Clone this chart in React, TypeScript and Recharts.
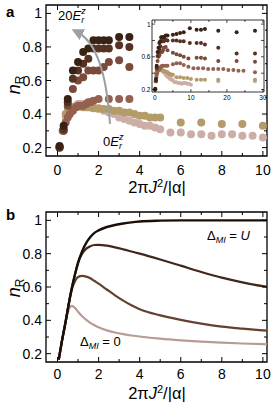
import { ScatterChart, Scatter, LineChart, Line, XAxis, YAxis, ReferenceArea } from "recharts";

const FONT = '"Liberation Sans", Arial, Helvetica, sans-serif';

// panel a: measured n_R, from 20E_r^z (darkest) down to 0E_r^z (lightest)
const e20X = [0.1, 0.3, 0.5, 0.75, 1, 1.25, 1.5, 1.75, 2, 2.25, 2.5, 3, 3.5, 5, 6, 7, 8, 9.7, 11.6, 12.8, 13.9, 17.6, 22.7, 27.8];
const e20Y = [0.21, 0.33, 0.49, 0.66, 0.71, 0.77, 0.79, 0.84, 0.84, 0.84, 0.84, 0.86, 0.86, 0.87, 0.88, 0.89, 0.9, 0.95, 0.93, 0.93, 0.94, 0.92, 0.9, 0.92];
const e15X = [0.1, 0.3, 0.5, 0.75, 1, 1.25, 1.5, 1.75, 2, 2.25, 2.5, 3, 3.5, 5, 6, 7, 8, 9.7, 11.6, 12.8, 13.9, 17.6, 22.7, 27.8];
const e15Y = [0.2, 0.31, 0.47, 0.61, 0.66, 0.7, 0.73, 0.79, 0.79, 0.79, 0.79, 0.81, 0.8, 0.8, 0.8, 0.79, 0.79, 0.77, 0.77, 0.77, 0.75, 0.71, 0.64, 0.64];
const e10X = [0.1, 0.3, 0.5, 0.75, 1, 1.25, 1.5, 1.75, 2, 2.25, 2.5, 3, 3.5, 5, 6, 7, 8, 9.3, 11.6, 12.8, 13.9, 17.6, 22.7, 27.8];
const e10Y = [0.2, 0.3, 0.45, 0.55, 0.6, 0.62, 0.66, 0.66, 0.66, 0.68, 0.71, 0.72, 0.68, 0.65, 0.63, 0.62, 0.6, 0.58, 0.59, 0.59, 0.58, 0.55, 0.55, 0.54];
const e5X = [0.1, 0.25, 0.4, 0.5, 0.6, 0.75, 0.9, 1, 1.1, 1.25, 1.4, 1.5, 1.6, 1.75, 2, 2.5, 3, 3.5, 5, 6, 7, 8, 9.3, 10.7, 12, 13.4, 14.8, 16.2, 17.6, 19, 20.4, 21.8, 23.2, 24.6, 27.8];
const e5Y = [0.2, 0.3, 0.35, 0.38, 0.4, 0.42, 0.44, 0.45, 0.45, 0.45, 0.46, 0.47, 0.47, 0.48, 0.49, 0.49, 0.49, 0.49, 0.51, 0.52, 0.52, 0.5, 0.48, 0.46, 0.46, 0.46, 0.45, 0.45, 0.45, 0.45, 0.44, 0.44, 0.43, 0.43, 0.41];
const e2X = [0.4, 0.5, 0.6, 0.75, 0.9, 1, 1.1, 1.25, 1.4, 1.5, 1.6, 1.75, 2, 2.25, 2.5, 2.75, 3, 3.25, 3.5, 3.75, 4, 4.25, 4.5, 4.75, 5, 6, 7, 8, 9, 10, 11.6, 12.8, 13.9, 17.6, 27.8];
const e2Y = [0.4, 0.42, 0.43, 0.44, 0.44, 0.445, 0.445, 0.44, 0.44, 0.44, 0.44, 0.435, 0.435, 0.43, 0.43, 0.42, 0.42, 0.41, 0.41, 0.4, 0.39, 0.39, 0.38, 0.38, 0.38, 0.35, 0.35, 0.34, 0.34, 0.33, 0.32, 0.32, 0.32, 0.32, 0.32];
const e0X = [0.3, 0.4, 0.5, 0.6, 0.75, 0.9, 1, 1.1, 1.25, 1.4, 1.5, 1.6, 1.75, 2, 2.25, 2.5, 2.75, 3, 3.25, 3.5, 3.75, 4, 4.25, 4.5, 4.75, 5, 5.5, 6, 6.5, 7, 7.5, 8, 8.5, 9, 9.5, 10, 17.6, 27.8];
const e0Y = [0.3, 0.38, 0.41, 0.43, 0.44, 0.45, 0.46, 0.46, 0.46, 0.45, 0.45, 0.44, 0.44, 0.43, 0.42, 0.41, 0.4, 0.38, 0.37, 0.36, 0.35, 0.34, 0.33, 0.33, 0.32, 0.31, 0.29, 0.29, 0.28, 0.28, 0.27, 0.28, 0.28, 0.27, 0.27, 0.26, 0.3, 0.3];

// panel b: model curves
const bX = [0.06, 0.2, 0.4, 0.55, 0.7, 0.85, 1.0, 1.2, 1.4, 1.6, 1.8, 2.0, 2.4, 2.8, 3.2, 3.6, 4, 5, 6, 7, 8, 9, 10, 10.4];
const bU = [0.165, 0.265, 0.395, 0.5, 0.595, 0.675, 0.745, 0.815, 0.865, 0.9, 0.925, 0.94, 0.96, 0.972, 0.981, 0.988, 0.993, 0.998, 1, 1, 1, 1, 1, 1];
const bHigh = [0.165, 0.265, 0.395, 0.5, 0.595, 0.675, 0.745, 0.8, 0.83, 0.845, 0.852, 0.853, 0.848, 0.838, 0.826, 0.813, 0.8, 0.765, 0.728, 0.69, 0.656, 0.628, 0.605, 0.598];
const bMid = [0.165, 0.265, 0.395, 0.5, 0.585, 0.635, 0.66, 0.667, 0.662, 0.652, 0.636, 0.62, 0.585, 0.55, 0.518, 0.49, 0.467, 0.43, 0.403, 0.38, 0.362, 0.35, 0.34, 0.336];
const bZero = [0.165, 0.265, 0.395, 0.465, 0.487, 0.475, 0.452, 0.425, 0.403, 0.385, 0.37, 0.358, 0.34, 0.327, 0.317, 0.309, 0.303, 0.29, 0.28, 0.272, 0.266, 0.261, 0.257, 0.256];

// ticks
const xTicks = [0, 1, 2, 3, 4, 5, 6, 7, 8, 9, 10];
const xLabels = [0, 2, 4, 6, 8, 10];
const yTicks = [0.2, 0.3, 0.4, 0.5, 0.6, 0.7, 0.8, 0.9, 1];
const yLabels = [0.2, 0.4, 0.6, 0.8, 1];
const insetXTicks = [0, 5, 10, 15, 20, 25, 30];
const insetXLabels = [0, 10, 20, 30];
const insetYTicks = [0.2, 0.4, 0.6, 0.8, 1];
const insetYLabels = [0.2, 0.6, 1];

const zip = (xs: number[], ys: number[]) => xs.map((x, i) => ({ x, y: ys[i] }));

const SERIES = [
  { key: "e0", pts: zip(e0X, e0Y), color: "#cdaea6" },
  { key: "e2", pts: zip(e2X, e2Y), color: "#b39c69" },
  { key: "e5", pts: zip(e5X, e5Y), color: "#95604f" },
  { key: "e10", pts: zip(e10X, e10Y), color: "#7a4a3a" },
  { key: "e15", pts: zip(e15X, e15Y), color: "#573222" },
  { key: "e20", pts: zip(e20X, e20Y), color: "#382213" },
];

const bData = bX.map((x, i) => ({ x, u: bU[i], hi: bHigh[i], mid: bMid[i], zero: bZero[i] }));

const X_DOM: [number, number] = [-0.56, 10.2];
const Y_DOM: [number, number] = [0.15, 1.05];

const isLabel = (list: number[], v: number) => list.some((l) => Math.abs(l - v) < 1e-6);
const fmtY = (v: number) => (v === 1 ? "1" : v.toFixed(1));

function BottomTick(props: any) {
  const { x = 0, y = 0, payload, tLabels, tSpan, tLen, tMinor, tSize, tGap, tW } = props;
  const v = payload.value;
  const major = isLabel(tLabels, v);
  const l = major ? tLen : tMinor;
  return (
    <g>
      <line x1={x} x2={x} y1={y} y2={y - l} stroke="#000" strokeWidth={tW} />
      <line x1={x} x2={x} y1={y - tSpan} y2={y - tSpan + l} stroke="#000" strokeWidth={tW} />
      {major && (
        <text x={x} y={y + tGap} textAnchor="middle" dominantBaseline="central" fontSize={tSize} fontFamily={FONT} fill="#000">
          {String(v)}
        </text>
      )}
    </g>
  );
}

function LeftTick(props: any) {
  const { x = 0, y = 0, payload, tLabels, tSpan, tLen, tMinor, tSize, tGap, tW } = props;
  const v = payload.value;
  const major = isLabel(tLabels, v);
  const l = major ? tLen : tMinor;
  return (
    <g>
      <line x1={x} x2={x + l} y1={y} y2={y} stroke="#000" strokeWidth={tW} />
      <line x1={x + tSpan} x2={x + tSpan - l} y1={y} y2={y} stroke="#000" strokeWidth={tW} />
      {major && (
        <text x={x - tGap} y={y} textAnchor="end" dominantBaseline="central" fontSize={tSize} fontFamily={FONT} fill="#000">
          {fmtY(v)}
        </text>
      )}
    </g>
  );
}

const dot = (r: number, color: string) => (p: any) => <circle cx={p.cx} cy={p.cy} r={r} fill={color} />;

function XLabel({ y }: { y: number }) {
  return (
    <text x={157} y={y} textAnchor="middle" fontSize={16.5} fontFamily={FONT}>
      2π<tspan fontStyle="italic">J</tspan>
      <tspan fontSize={11} dy={-6}>2</tspan>
      <tspan dy={6}>/|α|</tspan>
    </text>
  );
}

function YLabel({ cy }: { cy: number }) {
  return (
    <text transform={`translate(20,${cy}) rotate(-90)`} textAnchor="middle" fontSize={18} fontFamily={FONT}>
      <tspan fontStyle="italic">n</tspan>
      <tspan fontSize={12} dy={4}>R</tspan>
    </text>
  );
}

export default function App() {
  const mainPlotW = 221;
  return (
    <div style={{ position: "absolute", left: 0, top: 0, width: 277, height: 404, background: "#fff", fontFamily: FONT }}>
      {/* panel a */}
      <div style={{ position: "absolute", left: 0, top: 0 }}>
        <ScatterChart width={277} height={200} margin={{ top: 5, right: 10, bottom: 0, left: 0 }}>
          <XAxis
            type="number"
            dataKey="x"
            domain={X_DOM}
            allowDataOverflow
            ticks={xTicks}
            interval={0}
            height={44}
            axisLine={false}
            tickLine={false}
            tickSize={0}
            tickMargin={0}
            tick={<BottomTick tLabels={xLabels} tSpan={151} tLen={5} tMinor={3} tSize={14} tGap={14} tW={1} />}
          />
          <YAxis
            type="number"
            dataKey="y"
            domain={Y_DOM}
            allowDataOverflow
            ticks={yTicks}
            interval={0}
            width={46}
            axisLine={false}
            tickLine={false}
            tickSize={0}
            tickMargin={0}
            tick={<LeftTick tLabels={yLabels} tSpan={mainPlotW} tLen={5} tMinor={3} tSize={14} tGap={4} tW={1} />}
          />
          <ReferenceArea x1={X_DOM[0]} x2={X_DOM[1]} y1={Y_DOM[0]} y2={Y_DOM[1]} fill="none" stroke="#000" strokeWidth={1.3} ifOverflow="visible" />
          {SERIES.map((s) => (
            <Scatter
              key={s.key}
              data={s.pts.filter((p) => p.x <= 10.2)}
              isAnimationActive={false}
              shape={dot(4, s.color)}
            />
          ))}
        </ScatterChart>
      </div>

      <svg width={277} height={200} style={{ position: "absolute", left: 0, top: 0, pointerEvents: "none" }}>
        <defs>
          <marker id="head" markerWidth="6" markerHeight="6" refX="3" refY="3" orient="auto" markerUnits="strokeWidth">
            <path d="M0,0 L6,3 L0,6 z" fill="#9aa0a3" />
          </marker>
        </defs>
        <path d="M110,124 Q105,46 77,32" fill="none" stroke="#9aa0a3" strokeWidth={2} markerEnd="url(#head)" />
        <text x={6} y={17} fontSize={15} fontWeight="bold" fontFamily={FONT}>a</text>
        <YLabel cy={85} />
        <XLabel y={193} />
        <text x={58} y={20} fontSize={13} fontFamily={FONT}>
          20<tspan fontStyle="italic">E</tspan>
          <tspan fontSize={9} fontStyle="italic" dy={-6}>z</tspan>
          <tspan fontSize={9} fontStyle="italic" dx={-4.5} dy={9}>r</tspan>
        </text>
        <text x={103} y={146} fontSize={13} fontFamily={FONT}>
          0<tspan fontStyle="italic">E</tspan>
          <tspan fontSize={9} fontStyle="italic" dy={-6}>z</tspan>
          <tspan fontSize={9} fontStyle="italic" dx={-4.5} dy={9}>r</tspan>
        </text>
      </svg>

      {/* inset: white patch, then chart slightly wider so the "30" label is not clipped */}
      <div style={{ position: "absolute", left: 138, top: 14, width: 127, height: 94, background: "#fff" }} />
      <div style={{ position: "absolute", left: 138, top: 14 }}>
        <ScatterChart width={132} height={94} margin={{ top: 6, right: 6, bottom: 0, left: 0 }}>
          <XAxis
            type="number"
            dataKey="x"
            domain={[-0.8, 30.3]}
            allowDataOverflow
            ticks={insetXTicks}
            interval={0}
            height={16}
            axisLine={false}
            tickLine={false}
            tickSize={0}
            tickMargin={0}
            tick={<BottomTick tLabels={insetXLabels} tSpan={72} tLen={3} tMinor={2} tSize={6.5} tGap={5} tW={0.7} />}
          />
          <YAxis
            type="number"
            dataKey="y"
            domain={[0.17, 1.05]}
            allowDataOverflow
            ticks={insetYTicks}
            interval={0}
            width={14}
            axisLine={false}
            tickLine={false}
            tickSize={0}
            tickMargin={0}
            tick={<LeftTick tLabels={insetYLabels} tSpan={112} tLen={3} tMinor={3} tSize={6.5} tGap={1.5} tW={0.7} />}
          />
          <ReferenceArea x1={-0.8} x2={30.3} y1={0.17} y2={1.05} fill="none" stroke="#000" strokeWidth={0.8} ifOverflow="visible" />
          {SERIES.map((s) => (
            <Scatter key={s.key} data={s.pts} isAnimationActive={false} shape={dot(2, s.color)} />
          ))}
        </ScatterChart>
      </div>

      {/* panel b */}
      <div style={{ position: "absolute", left: 0, top: 200 }}>
        <LineChart width={277} height={204} data={bData} margin={{ top: 12, right: 10, bottom: 0, left: 0 }}>
          <XAxis
            type="number"
            dataKey="x"
            domain={X_DOM}
            allowDataOverflow
            ticks={xTicks}
            interval={0}
            height={42}
            axisLine={false}
            tickLine={false}
            tickSize={0}
            tickMargin={0}
            tick={<BottomTick tLabels={xLabels} tSpan={150} tLen={5} tMinor={3} tSize={14} tGap={12} tW={1} />}
          />
          <YAxis
            type="number"
            domain={Y_DOM}
            allowDataOverflow
            ticks={yTicks}
            interval={0}
            width={46}
            axisLine={false}
            tickLine={false}
            tickSize={0}
            tickMargin={0}
            tick={<LeftTick tLabels={yLabels} tSpan={mainPlotW} tLen={5} tMinor={3} tSize={14} tGap={4} tW={1} />}
          />
          <ReferenceArea x1={X_DOM[0]} x2={X_DOM[1]} y1={Y_DOM[0]} y2={Y_DOM[1]} fill="none" stroke="#000" strokeWidth={1.3} ifOverflow="visible" />
          <Line type="monotone" dataKey="zero" stroke="#b89c94" strokeWidth={2.2} dot={false} isAnimationActive={false} />
          <Line type="monotone" dataKey="mid" stroke="#63402f" strokeWidth={2.2} dot={false} isAnimationActive={false} />
          <Line type="monotone" dataKey="hi" stroke="#42271b" strokeWidth={2.2} dot={false} isAnimationActive={false} />
          <Line type="monotone" dataKey="u" stroke="#1a0e07" strokeWidth={2.4} dot={false} isAnimationActive={false} />
        </LineChart>
      </div>

      <svg width={277} height={204} style={{ position: "absolute", left: 0, top: 200, pointerEvents: "none" }}>
        <text x={6} y={20} fontSize={15} fontWeight="bold" fontFamily={FONT}>b</text>
        <YLabel cy={88} />
        <XLabel y={199} />
        <text x={207} y={40} fontSize={13} fontFamily={FONT}>
          Δ<tspan fontSize={9} fontStyle="italic" dy={3}>MI</tspan>
          <tspan dy={-3}> = </tspan>
          <tspan fontStyle="italic">U</tspan>
        </text>
        <text x={80} y={146} fontSize={13} fontFamily={FONT}>
          Δ<tspan fontSize={9} fontStyle="italic" dy={3}>MI</tspan>
          <tspan dy={-3}> = 0</tspan>
        </text>
      </svg>
    </div>
  );
}
